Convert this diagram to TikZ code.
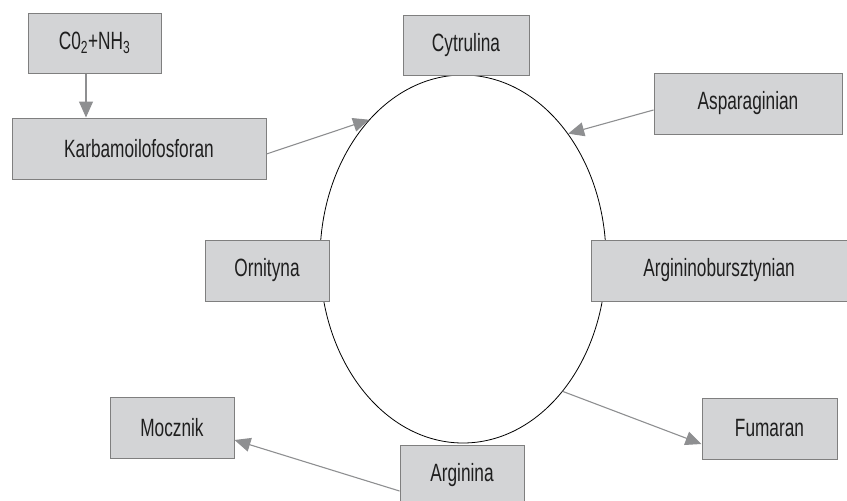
\documentclass[tikz,border=0pt]{standalone}
\usepackage{fontspec}
\setmainfont{Liberation Sans}
\usetikzlibrary{arrows.meta,shapes.geometric}
\definecolor{boxfill}{HTML}{D3D4D6}
\definecolor{boxline}{HTML}{7F7F7F}
\definecolor{arrcol}{HTML}{8E8F91}
\newcommand{\lbl}[1]{\scalebox{0.69}[1]{#1}}
\begin{document}
\begin{tikzpicture}[x=1pt,y=-1pt,
  box/.style={draw=boxline, fill=boxfill, line width=1pt, inner sep=0pt,
    font=\fontsize{25}{29}\selectfont, text=black!88},
  arr/.style={draw=arrcol, line width=1.1pt, -{Triangle[length=16pt,width=14pt]}}]
\useasboundingbox (0,0) rectangle (847,501);
\node[ellipse, draw=black, line width=0.8pt, inner sep=0pt,
  minimum width=286pt, minimum height=368pt] (ell) at (463,259) {};
\node[box, minimum width=133pt, minimum height=60pt] (co) at (94.5,43) {\lbl{C0\textsubscript{2}+NH\textsubscript{3}}};
\node[box, minimum width=254pt, minimum height=61pt] (karb) at (139,148.5) {\lbl{Karbamoilofosforan}};
\node[box, minimum width=126pt, minimum height=60pt] (cyt) at (466,45) {\lbl{Cytrulina}};
\node[box, minimum width=188pt, minimum height=61pt] (asp) at (748,103.5) {\lbl{Asparaginian}};
\node[box, minimum width=124pt, minimum height=61pt] (orn) at (267,270.5) {\lbl{Ornityna}};
\node[box, minimum width=256pt, minimum height=61pt] (argb) at (719,270.5) {\lbl{Argininobursztynian}};
\node[box, minimum width=124pt, minimum height=61pt] (moc) at (172,427.5) {\lbl{Mocznik}};
\node[box, minimum width=135pt, minimum height=61pt] (fum) at (769.5,428.5) {\lbl{Fumaran}};
\node[box, minimum width=124pt, minimum height=61pt] (arg) at (462,475.5) {\lbl{Arginina}};
\draw[arr] ([xshift=-8.5pt]co.south) -- ([xshift=-8.5pt]co.south |- karb.north);
\draw[arr] ([yshift=-5.5pt]karb.east) -- (ell.124.8);
\draw[arr] ([yshift=-6.5pt]asp.west) -- (ell.50.2);
\draw[arr] (ell.-53.9) -- ([yshift=-15.5pt]fum.west);
\draw[arr] ([yshift=-15.5pt]arg.west) -- ([yshift=-12.5pt]moc.east);
\end{tikzpicture}
\end{document}
